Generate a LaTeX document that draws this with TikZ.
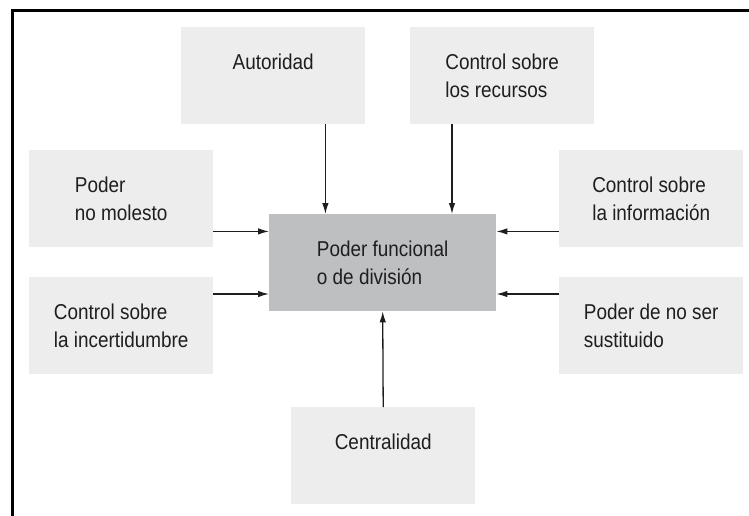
\documentclass[tikz,border=0pt]{standalone}
\usepackage{fontspec}
\setmainfont{Liberation Sans}[FakeStretch=0.88]
\usetikzlibrary{arrows.meta}
\definecolor{boxGrey}{RGB}{237,237,237}
\definecolor{coreGrey}{RGB}{190,191,193}
\definecolor{inkDark}{RGB}{30,30,30}
\newcommand{\boxlines}[1]{\begin{tabular}[t]{@{}l@{}}#1\end{tabular}}

\begin{document}
\begin{tikzpicture}[x=1pt,y=-1pt,
    factor/.style={anchor=north west,fill=boxGrey,inner sep=0pt,minimum width=184pt,
      text height=42pt,text depth=55pt,text=inkDark,font=\fontsize{21.5pt}{28pt}\selectfont},
    core/.style={factor,fill=coreGrey,minimum width=227pt},
    feed/.style={draw=inkDark,line width=1.3pt,-{Latex[length=11pt,width=6.5pt]}}]
  \useasboundingbox (0,0) rectangle (749,515);
  % marco
  \draw[line width=3pt,black] (12.5,516) -- (12.5,10.7) -- (750,10.7);

  % fuentes de poder
  \node[core] (central) at (269,214) {\boxlines{Poder funcional\\o de división}};
  \node[factor] (autoridad) at (181,27) {\boxlines{Autoridad}};
  \node[factor] (recursos) at (410,27) {\boxlines{Control sobre\\los recursos}};
  \node[factor] (molesto) at (29,150) {\boxlines{Poder\\no molesto}};
  \node[factor] (incert) at (29,277) {\boxlines{Control sobre\\la incertidumbre}};
  \node[factor] (info) at (559,150) {\boxlines{Control sobre\\la información}};
  \node[factor] (sust) at (559,277) {\boxlines{Poder de no ser\\sustituido}};
  \node[factor] (centralidad) at (291,407) {\boxlines{Centralidad}};

  % flechas
  \draw[feed] ([xshift=-40pt]autoridad.south east) -- ([xshift=-40pt]autoridad.south east |- central.north);
  \draw[feed] ([xshift=42pt]recursos.south west) -- ([xshift=42pt]recursos.south west |- central.north);
  \draw[feed] ([yshift=16pt]molesto.south east) -- ([yshift=16pt]molesto.south east -| central.west);
  \draw[feed] ([yshift=-17pt]incert.north east) -- ([yshift=-17pt]incert.north east -| central.west);
  \draw[feed] ([yshift=16pt]info.south west) -- ([yshift=16pt]info.south west -| central.east);
  \draw[feed] ([yshift=-17pt]sust.north west) -- ([yshift=-17pt]sust.north west -| central.east);
  \draw[feed] (centralidad.north) -- (central.south);
\end{tikzpicture}
\end{document}
